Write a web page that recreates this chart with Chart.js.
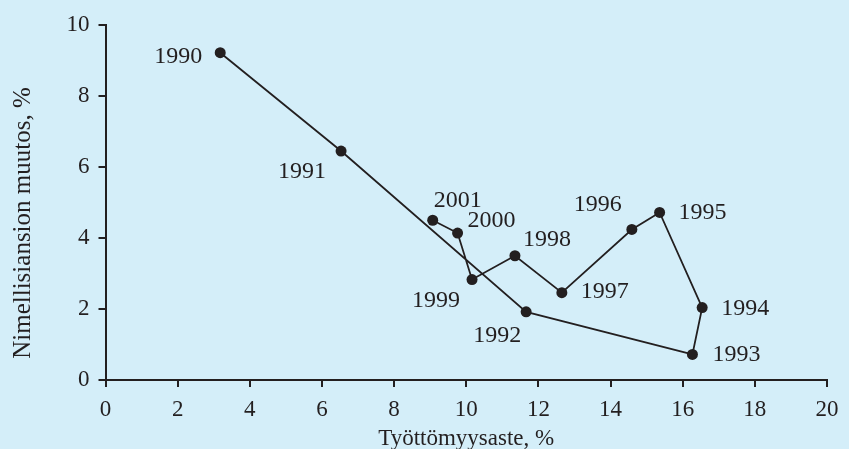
<!DOCTYPE html>
<html>
<head>
<meta charset="utf-8">
<script src="https://cdn.jsdelivr.net/npm/chart.js"></script>
<style>
  html, body { margin: 0; padding: 0; background: #d4eef9; }
  #wrap { width: 849px; height: 449px; position: relative; }
</style>
</head>
<body>
<div id="wrap"><canvas id="phillipsChart"></canvas></div>
<script>
// Data
const years = ["1990", "1991", "1992", "1993", "1994", "1995", "1996", "1997", "1998", "1999", "2000", "2001"];
const unemployment = [3.18, 6.53, 11.66, 16.27, 16.54, 15.36, 14.59, 12.65, 11.35, 10.16, 9.76, 9.07];
const wageChange = [9.22, 6.45, 1.92, 0.72, 2.04, 4.72, 4.24, 2.46, 3.50, 2.83, 4.14, 4.50];
const xTicks = [0, 2, 4, 6, 8, 10, 12, 14, 16, 18, 20];
const yTicks = [0, 2, 4, 6, 8, 10];
const xTitle = "Työttömyysaste, %";
const yTitle = "Nimellisiansion muutos, %";

const ink = "#231f20";
const serif = "'Liberation Serif', 'DejaVu Serif', serif";

// where each year label sits relative to its dot (px)
const labelOffsets = {
  "1990": [-42, 4], "1991": [-39, 21], "1992": [-29, 24], "1993": [44, 0],
  "1994": [43, 1], "1995": [43, 0], "1996": [-34, -25], "1997": [43, -1],
  "1998": [32, -16], "1999": [-36, 21], "2000": [34, -12], "2001": [25, -20]
};

const yearLabels = {
  id: "yearLabels",
  afterDatasetsDraw(chart) {
    const ctx = chart.ctx;
    const meta = chart.getDatasetMeta(0);
    ctx.save();
    ctx.font = "24px " + serif;
    ctx.fillStyle = ink;
    ctx.textAlign = "center";
    ctx.textBaseline = "middle";
    meta.data.forEach((pt, i) => {
      const off = labelOffsets[years[i]];
      ctx.fillText(years[i], pt.x + off[0], pt.y + off[1]);
    });

    // axis titles, placed like the original (y title sits a bit low)
    const area = chart.chartArea;
    ctx.font = "23px " + serif;
    ctx.textBaseline = "alphabetic";
    ctx.fillText(xTitle, (area.left + area.right) / 2, 445);

    ctx.translate(30, 223);
    ctx.rotate(-Math.PI / 2);
    ctx.font = "25px " + serif;
    ctx.fillText(yTitle, 0, 0);
    ctx.restore();
  }
};

const points = unemployment.map((x, i) => ({ x: x, y: wageChange[i] }));

new Chart(document.getElementById("phillipsChart"), {
  type: "scatter",
  data: {
    datasets: [{
      data: points,
      showLine: true,
      borderColor: ink,
      borderWidth: 1.8,
      backgroundColor: ink,
      pointRadius: 5.5,
      pointHoverRadius: 5.5,
      pointBorderWidth: 0
    }]
  },
  options: {
    responsive: true,
    maintainAspectRatio: false,
    animation: false,
    events: [],
    layout: { padding: { top: 25, right: 22, left: 0, bottom: 0 } },
    plugins: { legend: { display: false }, tooltip: { enabled: false } },
    scales: {
      x: {
        type: "linear",
        min: 0, max: 20,
        afterBuildTicks: s => { s.ticks = xTicks.map(v => ({ value: v })); },
        afterFit: s => { s.height = 69; },
        border: { display: true, color: ink, width: 2 },
        grid: { drawOnChartArea: false, drawTicks: true, tickLength: 7, color: ink, lineWidth: 2 },
        ticks: { color: ink, font: { family: serif, size: 23 }, padding: 9, maxRotation: 0 }
      },
      y: {
        type: "linear",
        min: 0, max: 10,
        afterBuildTicks: s => { s.ticks = yTicks.map(v => ({ value: v })); },
        afterFit: s => { s.width = 105.5; },
        border: { display: true, color: ink, width: 2 },
        grid: { drawOnChartArea: false, drawTicks: true, tickLength: 7, color: ink, lineWidth: 2 },
        ticks: { color: ink, font: { family: serif, size: 23 }, padding: 9 }
      }
    }
  },
  plugins: [yearLabels]
});
</script>
</body>
</html>
